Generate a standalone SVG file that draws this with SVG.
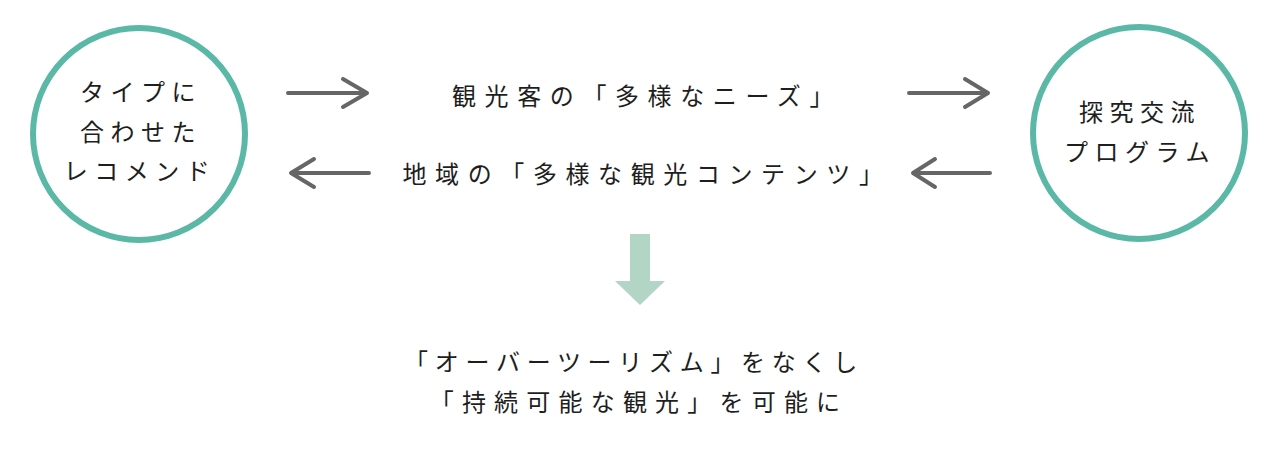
<svg xmlns="http://www.w3.org/2000/svg" width="1280" height="460" viewBox="0 0 1280 460">
<style>
.ring{fill:#fff;stroke:#5bb8a7;stroke-width:6}
.t{font-family:"Noto Sans CJK JP","Noto Sans",sans-serif;font-size:24px;fill:#1e1e1e;letter-spacing:7px;text-anchor:middle}
.c{letter-spacing:6.5px}
.m{letter-spacing:8.6px}
.arr{fill:none;stroke:#666;stroke-width:4;stroke-linecap:round;stroke-linejoin:round}
</style>
<rect width="1280" height="460" fill="#fff"/>
<g id="node-left">
<circle class="ring" cx="139" cy="134" r="106"/>
<text class="t c" x="141" y="101">タイプに</text>
<text class="t c" x="141" y="141">合わせた</text>
<text class="t c" x="140" y="180">レコメンド</text>
</g>
<g id="node-right">
<circle class="ring" cx="1139" cy="133" r="106"/>
<text class="t c" x="1140" y="121">探究交流</text>
<text class="t c" x="1140" y="161">プログラム</text>
</g>
<g id="labels">
<text class="t m" x="647" y="105">観光客の「多様なニーズ」</text>
<text class="t m" x="647" y="183">地域の「多様な観光コンテンツ」</text>
</g>
<g id="connectors">
<path class="arr" d="M288 93H367M343 79L367 93L343 107"/>
<path class="arr" d="M369 173H291M314 159L291 173L314 187"/>
<path class="arr" d="M909 93H988M965 79L988 93L965 107"/>
<path class="arr" d="M990 173H913M935 159L913 173L935 187"/>
<path d="M630 234H650V281H665L640 305L615 281H630Z" fill="#b3d5c5"/>
</g>
<g id="result">
<text class="t" x="634" y="371" style="letter-spacing:6.7px">「オーバーツーリズム」をなくし</text>
<text class="t" x="639" y="411" style="letter-spacing:8.2px">「持続可能な観光」を可能に</text>
</g>
</svg>
